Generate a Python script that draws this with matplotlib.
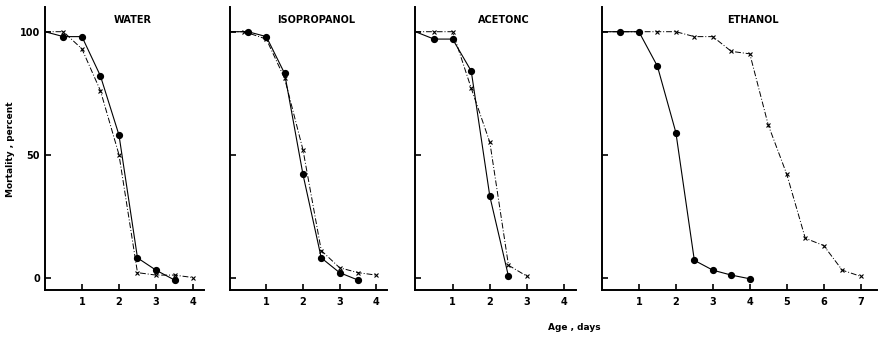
import numpy as np
import matplotlib.pyplot as plt

# Mortality (percent) vs age (days); first point at age 0 is the line start only
titles = ['WATER', 'ISOPROPANOL', 'ACETONC', 'ETHANOL']

water_dot_age = [0, 0.5, 1, 1.5, 2, 2.5, 3, 3.5]
water_dot = [100, 98, 98, 82, 58, 8, 3, -1]
water_x_age = [0, 0.5, 1, 1.5, 2, 2.5, 3, 3.5, 4]
water_x = [100, 100, 93, 76, 50, 2, 1, 1, 0]

iso_dot_age = [0, 0.5, 1, 1.5, 2, 2.5, 3, 3.5]
iso_dot = [100, 100, 98, 83, 42, 8, 2, -1]
iso_x_age = [0, 0.4, 1, 1.5, 2, 2.5, 3, 3.5, 4]
iso_x = [100, 100, 97, 81, 52, 11, 4, 2, 1]

ace_dot_age = [0, 0.5, 1, 1.5, 2, 2.5]
ace_dot = [100, 97, 97, 84, 33, 0.5]
ace_x_age = [0, 0.5, 1, 1.5, 2, 2.5, 3]
ace_x = [100, 100, 100, 77, 55, 5, 0.5]

eth_dot_age = [0, 0.5, 1, 1.5, 2, 2.5, 3, 3.5, 4]
eth_dot = [100, 100, 100, 86, 59, 7, 3, 1, -0.5]
eth_x_age = [0, 0.5, 1, 1.5, 2, 2.5, 3, 3.5, 4, 4.5, 5, 5.5, 6, 6.5, 7]
eth_x = [100, 100, 100, 100, 100, 98, 98, 92, 91, 62, 42, 16, 13, 3, 0.5]

series = [
    (water_dot_age, water_dot, water_x_age, water_x),
    (iso_dot_age, iso_dot, iso_x_age, iso_x),
    (ace_dot_age, ace_dot, ace_x_age, ace_x),
    (eth_dot_age, eth_dot, eth_x_age, eth_x),
]
xmax = [4.3, 4.3, 4.3, 7.45]
xticks = [[1, 2, 3, 4], [1, 2, 3, 4], [1, 2, 3, 4], [1, 2, 3, 4, 5, 6, 7]]

# panel boxes in figure fraction
boxes = [
    [0.051, 0.145, 0.181, 0.834],
    [0.261, 0.145, 0.179, 0.834],
    [0.472, 0.145, 0.182, 0.834],
    [0.684, 0.145, 0.313, 0.834],
]

fig = plt.figure(figsize=(8.8, 3.39), dpi=100)

for i in range(4):
    ax = fig.add_axes(boxes[i])
    da, dv, xa, xv = series[i]
    ax.plot(da, dv, color='black', lw=0.8, marker='o', ms=4.2,
            markevery=slice(1, None), zorder=3)
    ax.plot(xa, xv, color='black', lw=0.7, ls=(0, (6, 2, 1, 2)),
            marker='x', ms=3, mew=0.8, markevery=slice(1, None), zorder=2)
    ax.set_xlim(0, xmax[i])
    ax.set_ylim(-5, 110)
    ax.spines['top'].set_visible(False)
    ax.spines['right'].set_visible(False)
    ax.spines['left'].set_linewidth(1.4)
    ax.spines['bottom'].set_linewidth(1.4)
    ax.set_xticks(xticks[i])
    ax.set_yticks([0, 50, 100])
    ax.tick_params(direction='in', length=4, width=1.2, labelsize=7)
    ax.tick_params(axis='x', pad=5)
    for lab in ax.get_xticklabels():
        lab.set_fontweight('bold')
    if i == 0:
        ax.set_yticklabels(['0', '50', '100'], fontweight='bold')
    else:
        ax.set_yticklabels([])
    ax.text(0.55, 0.955, titles[i], transform=ax.transAxes, ha='center',
            va='center', fontsize=7, fontweight='bold')

fig.text(0.012, 0.56, 'Mortality , percent', rotation=90, ha='center',
         va='center', fontsize=6.5, fontweight='bold')
fig.text(0.653, 0.035, 'Age , days', ha='center', va='center',
         fontsize=6.5, fontweight='bold')

fig.savefig('out.png', dpi=100, facecolor='white')
